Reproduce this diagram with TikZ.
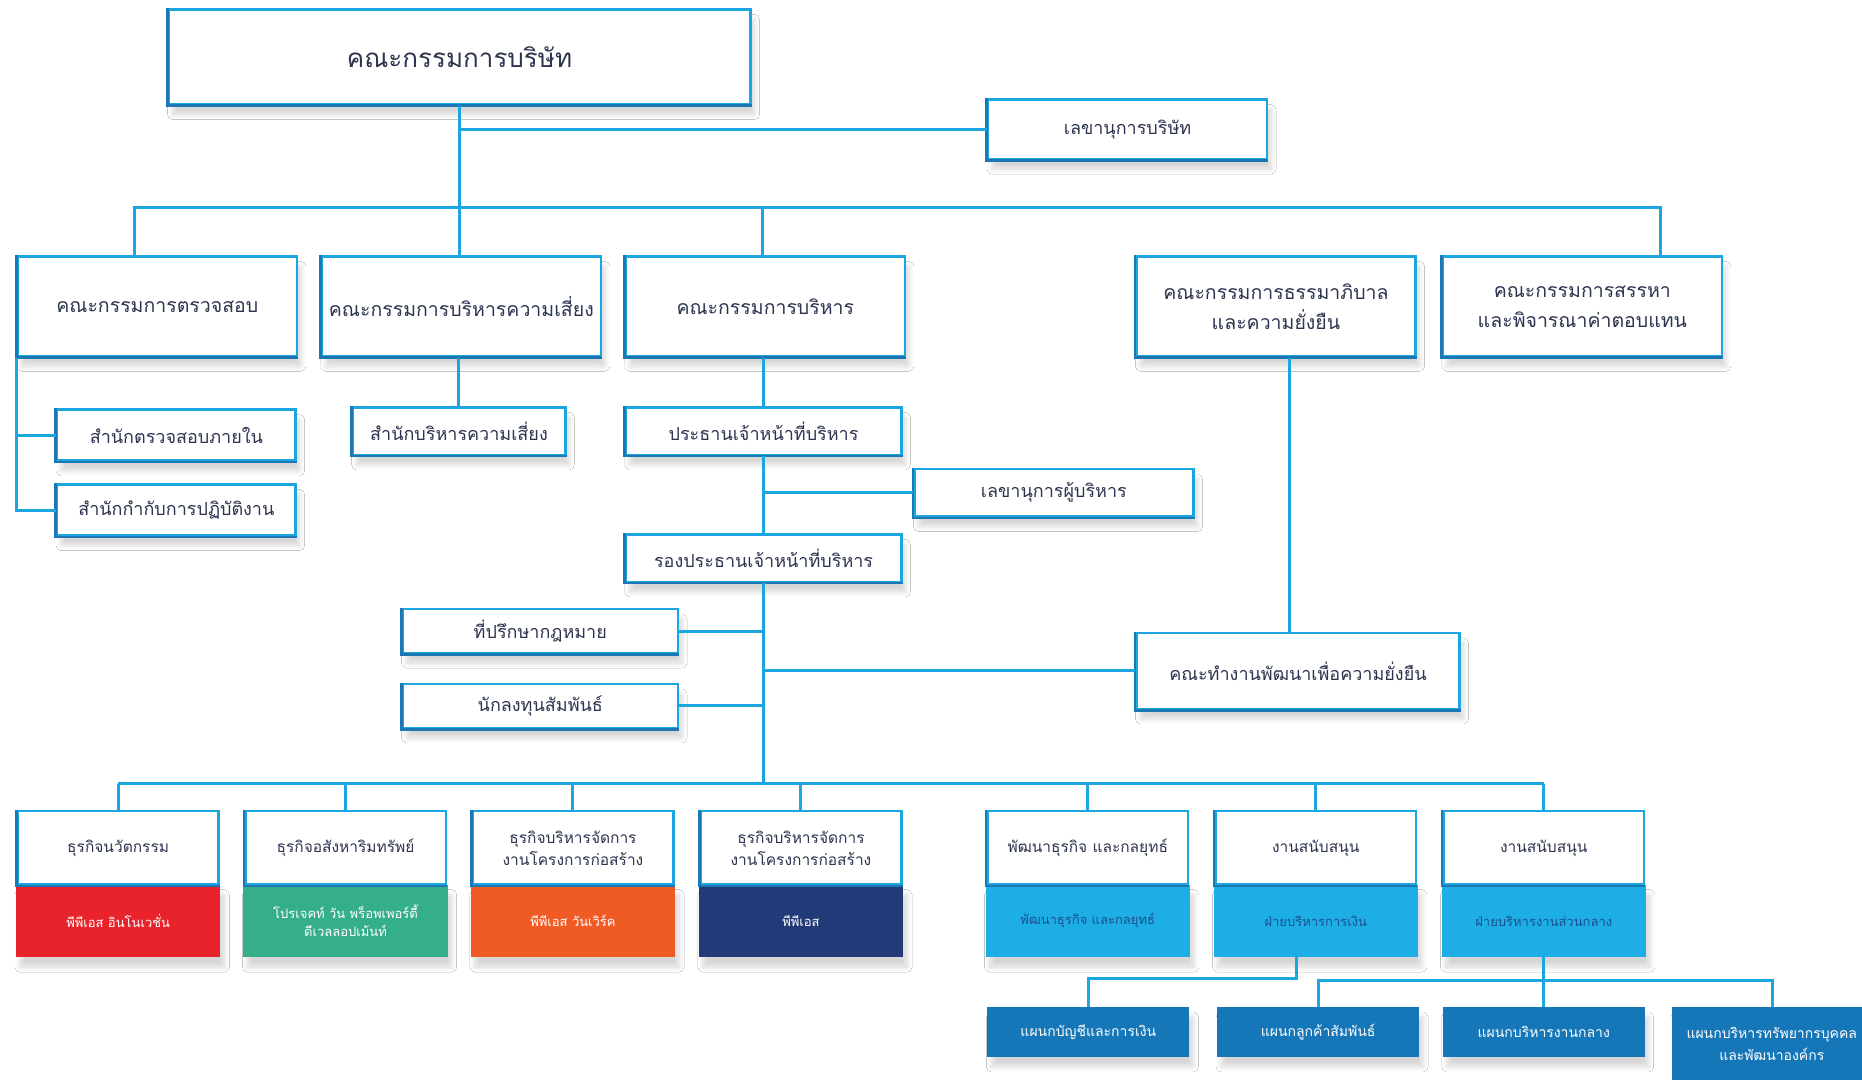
\documentclass[tikz,border=0pt]{standalone}
\usepackage{fontspec}
\newfontfamily\thai[Script=Thai]{Loma}
\usetikzlibrary{shadows.blur}
\definecolor{cyanb}{HTML}{1BA6DF}
\definecolor{darkb}{HTML}{1C78B4}
\definecolor{txt}{HTML}{2D3450}
\definecolor{redb}{HTML}{E8232B}
\definecolor{greenb}{HTML}{35AE8A}
\definecolor{orangeb}{HTML}{F05A24}
\definecolor{navyb}{HTML}{233A78}
\definecolor{lightb}{HTML}{1EAEE6}
\definecolor{lighttxt}{HTML}{1B4F8F}
\definecolor{deptb}{HTML}{1677B8}
\def\ux{1.1875pt}
\begin{document}
\begin{tikzpicture}[x=1.1875pt,y=-1.1875pt,
  shad/.style={blur shadow={shadow xshift=4pt, shadow yshift=-10pt, shadow opacity=16, shadow blur steps=8, shadow blur radius=5pt}},
  box/.style={shad, draw=cyanb, line width=2.6pt, fill=white, text=txt, align=center, inner sep=0pt},
  hdr/.style={draw=cyanb, line width=2.6pt, fill=white, text=txt, align=center, inner sep=0pt,
     minimum width={169*\ux}, minimum height={62*\ux}, font=\thai\fontsize{15.5}{22}\selectfont},
  colr/.style={shad, fill=#1, draw=none, text=white, align=center, inner sep=0pt,
     minimum width={172*\ux}, minimum height={61*\ux}, font=\thai\fontsize{13}{18}\selectfont},
  dept/.style={shad, fill=deptb, draw=none, text=white, align=center, inner sep=0pt,
     minimum width={170*\ux}, minimum height={42*\ux}, font=\thai\fontsize{14}{22}\selectfont},
  fbig/.style={font=\thai\fontsize{26}{32}\selectfont},
  fmid/.style={font=\thai\fontsize{19.5}{30}\selectfont},
  fsub/.style={font=\thai\fontsize{18}{24}\selectfont},
  conn/.style={draw=cyanb, line width=3pt},
  edge/.style={draw=darkb, line width=2.6pt}
]
\clip (0,0) rectangle (1568,909);
\fill[white] (0,0) rectangle (1568,909);

% ---------- top levels ----------
\node[box, fbig, minimum width={490*\ux}, minimum height={80*\ux}] (board) at (387,48) {คณะกรรมการบริษัท};
\node[box, fsub, minimum width={235*\ux}, minimum height={50*\ux}] (sec) at (949.5,109) {เลขานุการบริษัท};

\node[box, fmid, minimum width={235*\ux}, minimum height={84*\ux}] (audit) at (132.5,258) {คณะกรรมการตรวจสอบ};
\node[box, fmid, minimum width={235*\ux}, minimum height={84*\ux}] (risk) at (388.5,258) {คณะกรรมการบริหารความเสี่ยง};
\node[box, fmid, minimum width={235*\ux}, minimum height={84*\ux}] (exec) at (644.5,258) {คณะกรรมการบริหาร};
\node[box, fmid, minimum width={235*\ux}, minimum height={84*\ux}] (gov) at (1074.5,258) {คณะกรรมการธรรมาภิบาล\\และความยั่งยืน};
\node[box, fmid, minimum width={235*\ux}, minimum height={84*\ux}] (nom) at (1332.5,258) {คณะกรรมการสรรหา\\และพิจารณาค่าตอบแทน};

\node[box, fsub, minimum width={201*\ux}, minimum height={43*\ux}] (ia) at (148.5,366.5) {สำนักตรวจสอบภายใน};
\node[box, fsub, minimum width={201*\ux}, minimum height={43*\ux}] (comp) at (148.5,429.5) {สำนักกำกับการปฏิบัติงาน};
\node[box, fsub, minimum width={179*\ux}, minimum height={40*\ux}] (rmo) at (386.5,363) {สำนักบริหารความเสี่ยง};
\node[box, fsub, minimum width={232*\ux}, minimum height={40*\ux}] (ceo) at (643,363) {ประธานเจ้าหน้าที่บริหาร};
\node[box, fsub, minimum width={235*\ux}, minimum height={40*\ux}] (esec) at (887.5,415) {เลขานุการผู้บริหาร};
\node[box, fsub, minimum width={232*\ux}, minimum height={40*\ux}] (vceo) at (643,470) {รองประธานเจ้าหน้าที่บริหาร};
\node[box, fsub, minimum width={232*\ux}, minimum height={37*\ux}] (legal) at (455,531.5) {ที่ปรึกษากฎหมาย};
\node[box, fsub, minimum width={232*\ux}, minimum height={37*\ux}] (ir) at (455,594.5) {นักลงทุนสัมพันธ์};
\node[box, fsub, minimum width={272*\ux}, minimum height={64*\ux}] (sdw) at (1093,565) {คณะทำงานพัฒนาเพื่อความยั่งยืน};

% ---------- business units ----------
\node[colr=redb] (c1) at (99.5,775.5) {พีพีเอส อินโนเวชั่น};
\node[colr=greenb] (c2) at (291,775.5) {โปรเจคท์ วัน พร็อพเพอร์ตี้\\ดีเวลลอปเม้นท์};
\node[colr=orangeb] (c3) at (482.5,775.5) {พีพีเอส วันเวิร์ค};
\node[colr=navyb] (c4) at (674.5,775.5) {พีพีเอส};
\node[colr=lightb, text=lighttxt] (c5) at (916,775.5) {พัฒนาธุรกิจ และกลยุทธ์};
\node[colr=lightb, text=lighttxt] (c6) at (1108,775.5) {ฝ่ายบริหารการเงิน};
\node[colr=lightb, text=lighttxt] (c7) at (1300,775.5) {ฝ่ายบริหารงานส่วนกลาง};

\node[hdr] (b1) at (99.5,714) {ธุรกิจนวัตกรรม};
\node[hdr] (b2) at (291,714) {ธุรกิจอสังหาริมทรัพย์};
\node[hdr] (b3) at (482.5,714) {ธุรกิจบริหารจัดการ\\งานโครงการก่อสร้าง};
\node[hdr] (b4) at (674.5,714) {ธุรกิจบริหารจัดการ\\งานโครงการก่อสร้าง};
\node[hdr] (b5) at (916,714) {พัฒนาธุรกิจ และกลยุทธ์};
\node[hdr] (b6) at (1108,714) {งานสนับสนุน};
\node[hdr] (b7) at (1300,714) {งานสนับสนุน};

\node[dept] (d1) at (916.5,869) {แผนกบัญชีและการเงิน};
\node[dept] (d2) at (1110,869) {แผนกลูกค้าสัมพันธ์};
\node[dept] (d3) at (1300,869) {แผนกบริหารงานกลาง};
\node[dept, minimum height={67*\ux}, text height=0pt, text depth=0pt] (d4) at (1493,881.5) {};
\node[text=white, align=center, font=\thai\fontsize{14}{22}\selectfont] (d4t) at (1492,879) {แผนกบริหารทรัพยากรบุคคล\\และพัฒนาองค์กร};

% darker lower/left edges of the framed boxes
\foreach \n in {board,sec,audit,risk,exec,gov,nom,ia,comp,rmo,ceo,esec,vceo,legal,ir,sdw,b1,b2,b3,b4,b5,b6,b7}{
  \draw[edge] (\n.north west) -- (\n.south west) -- (\n.south east);
}

% ---------- connectors ----------
\coordinate (tA) at (113,175);
\coordinate (tR) at (387,175);
\coordinate (tE) at (642,175);
\coordinate (tN) at (1398,175);
\draw[conn] (board.south) -- (tR);
\draw[conn] (board.south |- sec.west) -- (sec.west);
\draw[conn] (tA |- audit.north) -- (tA) -- (tN) -- (tN |- nom.north);
\draw[conn] (tR) -- (tR |- risk.north);
\draw[conn] (tE) -- (tE |- exec.north);

\draw[conn] (audit.south west) -- (audit.south west |- comp.west) -- (comp.west);
\draw[conn] (audit.south west |- ia.west) -- (ia.west);
\draw[conn] (rmo.north |- risk.south) -- (rmo.north);
\draw[conn] (ceo.north |- exec.south) -- (ceo.north);
\draw[conn] (ceo.south) -- (vceo.north);
\draw[conn] (ceo.south |- esec.west) -- (esec.west);

\coordinate (bb) at (643,660);
\draw[conn] (vceo.south) -- (bb);
\draw[conn] (legal.east) -- (legal.east -| bb);
\draw[conn] (ir.east) -- (ir.east -| bb);
\draw[conn] (sdw.west) -- (sdw.west -| bb);
\coordinate (gv) at (1086,300);
\draw[conn] (gv |- gov.south) -- (gv |- sdw.north);

\draw[conn] (b1.north |- bb) -- (b7.north |- bb);
\foreach \n in {b1,b2,b3,b4,b5,b6,b7}{
  \draw[conn] (\n.north |- bb) -- (\n.north);
}

\coordinate (k1) at (1092,824);
\draw[conn] (k1 |- c6.south) -- (k1) -| (d1.north);
\coordinate (k2) at (1300,826);
\draw[conn] (c7.south) -- (k2);
\draw[conn] (d2.north) |- (k2) -| (d4.north);
\draw[conn] (k2) -- (d3.north);
\end{tikzpicture}
\end{document}
